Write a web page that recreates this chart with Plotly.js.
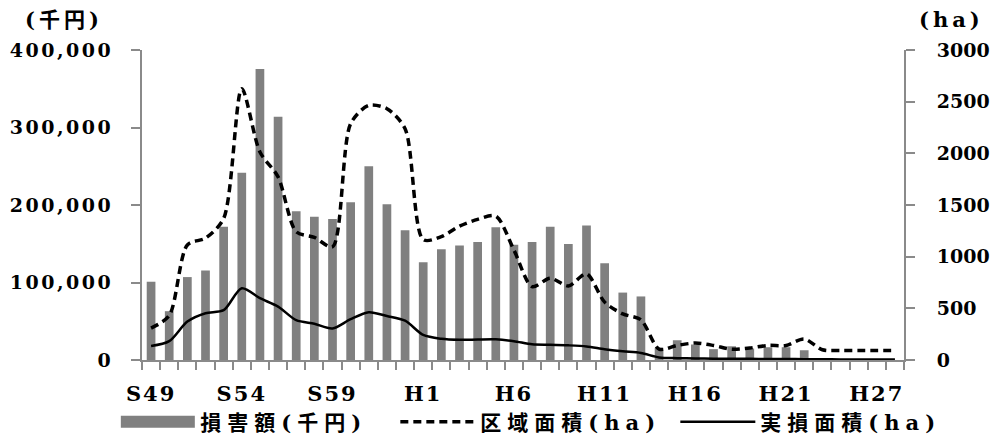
<!DOCTYPE html>
<html><head><meta charset="utf-8">
<script src="https://cdn.plot.ly/plotly-3.0.1.min.js"></script>
<style>
body{margin:0;background:#fff}
#chart .xtick text{letter-spacing:2px}
#chart .ytick text{letter-spacing:2.5px}
#chart .legendtext{letter-spacing:6px}
#chart .annotation-text{letter-spacing:4px}
#chart .annotation:first-of-type .annotation-text{letter-spacing:7px}
</style>
</head><body><div id="chart" style="width:1004px;height:438px"></div>
<script>
// 年度（S49〜H27）
const years = ["S49","S50","S51","S52","S53","S54","S55","S56","S57","S58","S59","S60","S61","S62","S63",
  "H1","H2","H3","H4","H5","H6","H7","H8","H9","H10","H11","H12","H13","H14","H15","H16","H17","H18","H19","H20","H21","H22","H23","H24","H25","H26","H27"];
// 軸に表示されるラベル（図のとおり）
const tickLabels = ["S49","S54","S59","H1","H6","H11","H16","H21","H27"];
const tickIndex = [0,5,10,15,20,25,30,35,40];

// 損害額(千円)
const damage = [101000,63000,107000,115500,172000,241500,375500,314000,192000,185000,182000,203500,250000,201000,167500,
  126000,143000,147700,152400,171300,148600,152400,172000,149800,173400,125000,87000,82000,15700,25500,
  20000,14000,17700,14800,16500,16500,12600,0,0,0,0,0];
// 区域面積(ha)
const areaZone = [309,430,1113,1180,1370,2625,2013,1772,1241,1187,1096,2287,2464,2432,2239,
  1165,1193,1296,1361,1393,1064,710,791,717,833,560,446,389,106,141,
  164,141,105,116,141,141,203,99,92,92,92,92];
// 実損面積(ha)
const areaLoss = [135,182,372,453,482,695,598,517,385,350,305,395,463,425,380,
  242,205,195,198,200,182,152,148,142,131,104,84,68,25,18,
  15,13,12,11,10,9,8,7,6,6,5,5];

const xIdx = years.map((_, i) => i);

const numFont = "DejaVu Serif, Liberation Serif, serif";
const jpFont = "DejaVu Serif, Noto Sans CJK JP, serif";

const traces = [
  {type:'bar', x:xIdx, y:damage, name:'損害額(千円)', marker:{color:'#808080'}, yaxis:'y'},
  {type:'scatter', mode:'lines', x:xIdx, y:areaZone, name:'区域面積(ha)', yaxis:'y2',
    line:{color:'#000', width:3.5, dash:'8px,5px', shape:'spline', smoothing:0.8}},
  {type:'scatter', mode:'lines', x:xIdx, y:areaLoss, name:'実損面積(ha)', yaxis:'y2',
    line:{color:'#000', width:2.5, shape:'spline', smoothing:0.8}}
];

const axisColor = '#8a8a8a';
const layout = {
  width:1004, height:438,
  margin:{l:142, r:100, t:50, b:78, autoexpand:false},
  paper_bgcolor:'#fff', plot_bgcolor:'#fff',
  bargap:0.52,
  showlegend:true,
  legend:{orientation:'h', x:-0.035, xanchor:'left', y:-0.2, yanchor:'middle',
    font:{family:jpFont, size:21, color:'#000', weight:'bold'}, itemwidth:75, entrywidth:190, tracegroupgap:0},
  xaxis:{range:[-0.5, 41.5], tickmode:'array', tickvals:tickIndex, ticktext:tickLabels, ticks:'',
    showline:true, linecolor:axisColor, linewidth:2, showgrid:false, zeroline:false, ticklabelstandoff:14,
    tickfont:{family:numFont, size:21, color:'#000', weight:'bold'},
    minor:{tickmode:'linear', tick0:-0.5, dtick:1, ticks:'outside', ticklen:8, tickcolor:axisColor, tickwidth:2, showgrid:false}},
  yaxis:{range:[0,400000], tickmode:'array', tickvals:[0,100000,200000,300000,400000], tickformat:',',
    ticks:'outside', ticklen:9, tickcolor:axisColor, tickwidth:2, showline:true, linecolor:axisColor, linewidth:2,
    showgrid:false, zeroline:false, ticklabelstandoff:14,
    tickfont:{family:numFont, size:19, color:'#000', weight:'bold'}},
  yaxis2:{range:[0,3000], overlaying:'y', side:'right', tickmode:'array', tickvals:[0,500,1000,1500,2000,2500,3000],
    ticks:'outside', ticklen:9, tickcolor:axisColor, tickwidth:2, showline:true, linecolor:axisColor, linewidth:2,
    showgrid:false, zeroline:false, ticklabelstandoff:18,
    tickfont:{family:numFont, size:19, color:'#000', weight:'bold'}},
  annotations:[
    {text:'(千円)', xref:'paper', yref:'paper', x:-0.102, y:1.0, yshift:31, xanchor:'center', yanchor:'middle', showarrow:false,
      font:{family:jpFont, size:21, color:'#000', weight:'bold'}},
    {text:'(ha)', xref:'paper', yref:'paper', x:1.062, y:1.0, yshift:31, xanchor:'center', yanchor:'middle', showarrow:false,
      font:{family:numFont, size:21, color:'#000', weight:'bold'}}
  ]
};

Plotly.newPlot('chart', traces, layout, {displayModeBar:false, staticPlot:true}).then(gd => {
  // 凡例の棒グラフ記号を横長に
  const items = gd.querySelectorAll('.legend .traces');
  if (items.length) {
    items[0].querySelectorAll('.legendpoints path').forEach(p => {
      p.setAttribute('d', 'M-37,6H37V-6H-37Z');
    });
  }
});
</script>
</body></html>
